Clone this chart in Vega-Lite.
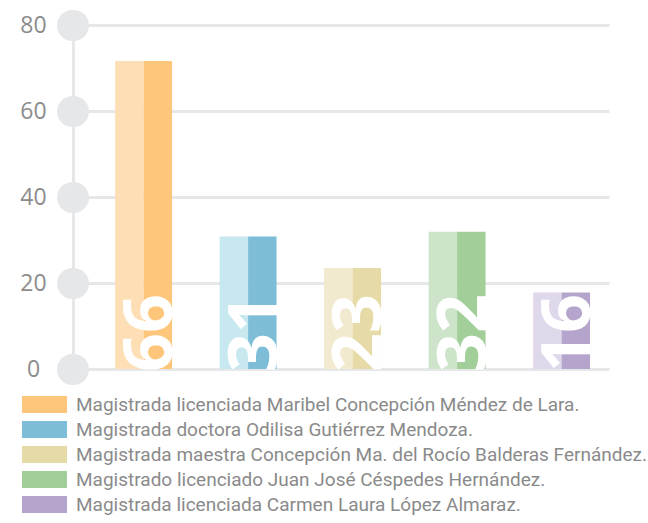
{
  "$schema": "https://vega.github.io/schema/vega-lite/v6.json",
  "width": 536,
  "height": 344,
  "autosize": "none",
  "padding": {"left": 73, "top": 25, "right": 39, "bottom": 154},
  "background": "white",
  "config": {"view": {"stroke": null}},
  "data": {
    "values": [
      {"nombre": "Magistrada licenciada Maribel Concepción Méndez de Lara.", "valor": 71.6, "etiqueta": "66"},
      {"nombre": "Magistrada doctora Odilisa Gutiérrez Mendoza.", "valor": 30.8, "etiqueta": "31"},
      {"nombre": "Magistrada maestra Concepción Ma. del Rocío Balderas Fernández.", "valor": 23.5, "etiqueta": "23"},
      {"nombre": "Magistrado licenciado Juan José Céspedes Hernández.", "valor": 31.9, "etiqueta": "32"},
      {"nombre": "Magistrada licenciada Carmen Laura López Almaraz.", "valor": 17.8, "etiqueta": "16"}
    ]
  },
  "encoding": {
    "x": {
      "field": "nombre",
      "type": "nominal",
      "sort": null,
      "axis": null,
      "scale": {"paddingInner": 0.455, "paddingOuter": 0.292, "align": 0.69}
    }
  },
  "layer": [
    {
      "mark": {"type": "bar", "opacity": 1},
      "encoding": {
        "y": {
          "field": "valor",
          "type": "quantitative",
          "scale": {"domain": [0, 80], "nice": false},
          "axis": {
            "title": null,
            "values": [0, 20, 40, 60, 80],
            "grid": true,
            "gridColor": "#e6e7e8",
            "gridWidth": 3,
            "domainColor": "#e6e7e8",
            "domainWidth": 3,
            "tickColor": "#e6e7e8",
            "tickWidth": 31,
            "tickSize": 1,
            "tickCap": "round",
            "labelPadding": 39,
            "labelAlign": "center",
            "labelFont": "Open Sans",
            "labelFontSize": 23,
            "labelColor": "#8c8c8c"
          }
        },
        "xOffset": {"datum": "claro", "scale": {"domain": ["claro", "oscuro"], "paddingInner": 0, "paddingOuter": 0}},
        "color": {
          "field": "nombre",
          "type": "nominal",
          "sort": null,
          "legend": null,
          "scale": {"range": ["#fedfb5", "#c8e8f0", "#f1eacf", "#cde4ca", "#dfd8eb"]}
        }
      }
    },
    {
      "mark": {"type": "bar", "opacity": 1},
      "encoding": {
        "y": {"field": "valor", "type": "quantitative"},
        "xOffset": {"datum": "oscuro"},
        "color": {
          "field": "nombre",
          "type": "nominal",
          "sort": null,
          "scale": {"range": ["#fec67a", "#7dbdd7", "#e6daa6", "#a2ce9a", "#b5a5cc"]},
          "legend": {
            "title": null,
            "orient": "none",
            "legendX": -38,
            "legendY": 370,
            "padding": 0,
            "symbolType": "M-2.65,-1H2.65V1H-2.65Z",
            "symbolSize": 289,
            "symbolStrokeWidth": 0,
            "symbolOpacity": 1,
            "labelOffset": 22,
            "labelFont": "Roboto",
            "labelFontSize": 19,
            "labelColor": "#8a8a8a",
            "labelLimit": 700,
            "rowPadding": 5
          }
        }
      }
    },
    {
      "mark": {
        "type": "text",
        "angle": 270,
        "align": "left",
        "baseline": "alphabetic",
        "dy": 28.5,
        "dx": -3,
        "font": "Open Sans",
        "fontWeight": "bold",
        "fontSize": 68,
        "color": "white"
      },
      "encoding": {
        "y": {"datum": 0, "type": "quantitative"},
        "text": {"field": "etiqueta"}
      }
    }
  ],
  "resolve": {"scale": {"color": "independent"}}
}
